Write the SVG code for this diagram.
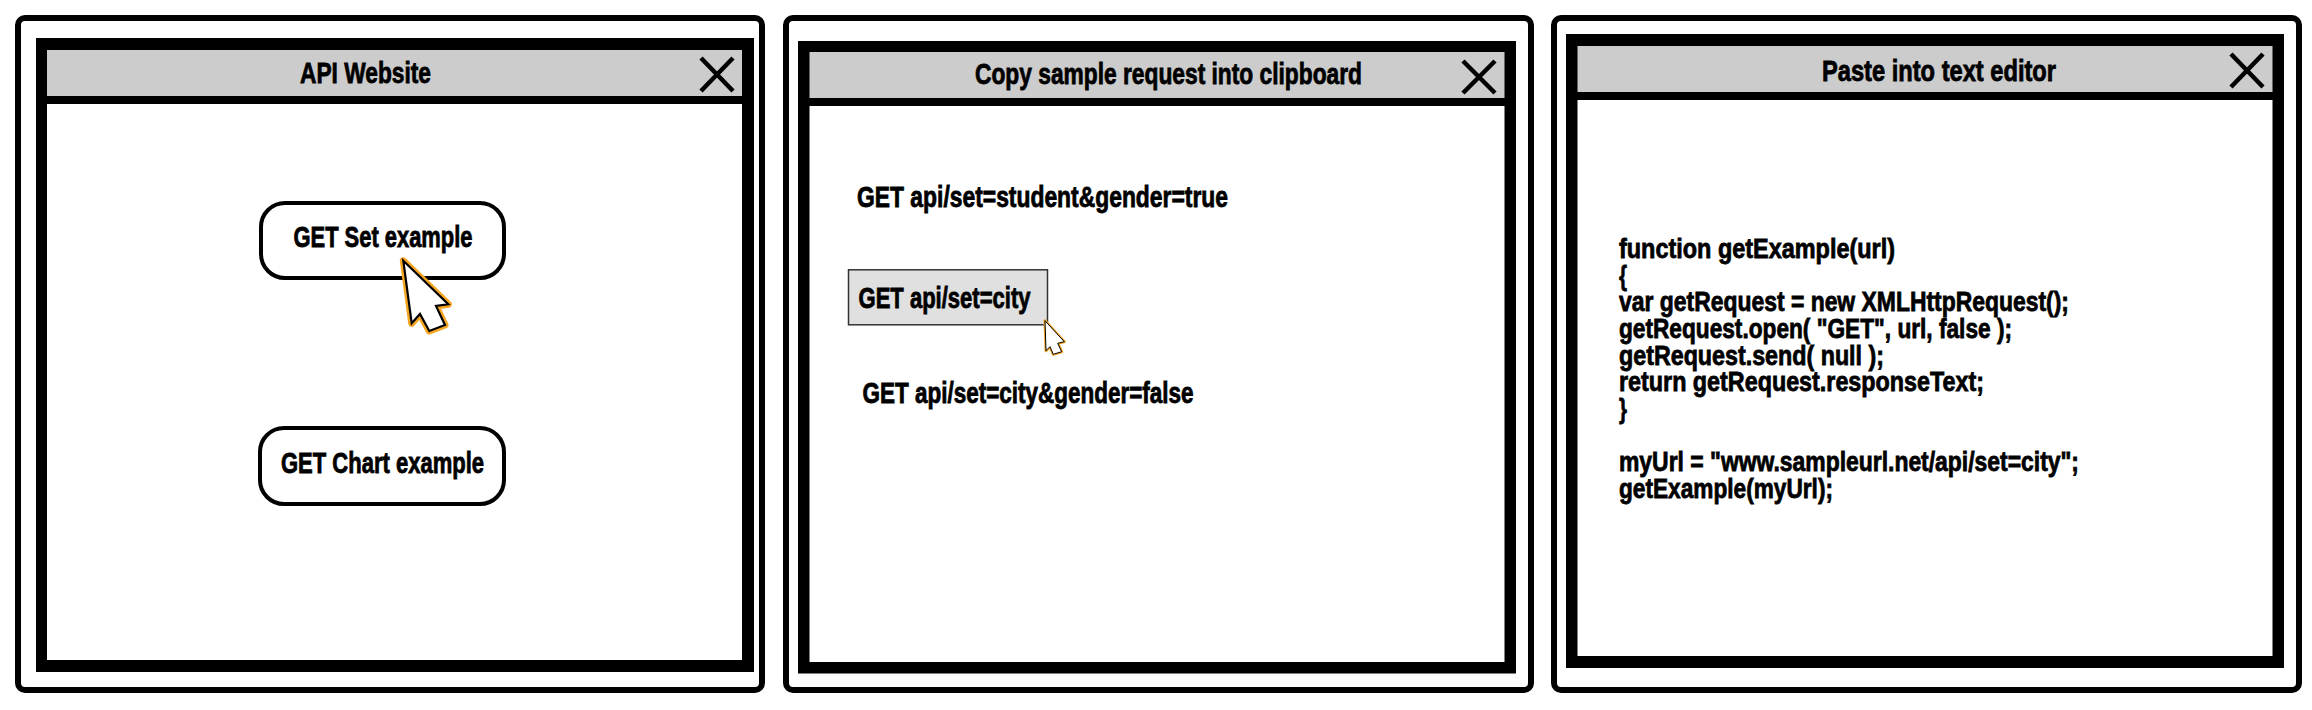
<svg xmlns="http://www.w3.org/2000/svg" width="2312" height="710" viewBox="0 0 2312 710">
<style>
.frame{fill:#fff;stroke:#000;stroke-width:6}
.win{fill:#000}
.bar{fill:#ccc}
.body{fill:#fff}
.x{fill:none;stroke:#000;stroke-width:4.5}
.btn{fill:#fff;stroke:#000;stroke-width:4}
.sel{fill:#e0e0e0;stroke:#333;stroke-width:1.5}
text{font-family:"Liberation Sans Narrow","Liberation Sans",Arial,sans-serif;font-weight:700;fill:#000;stroke:#000;stroke-width:.8;font-size:29px}
.big{font-size:30px}
.code{font-size:28px}
.halo{fill:none;stroke:#f5a623;stroke-linejoin:round}
.arrow{fill:#fff;stroke:#000;stroke-linejoin:miter}
</style>
<rect width="2312" height="710" fill="#fff"/>
<g id="panel-1">
<rect class="frame" x="18" y="18" width="744" height="672" rx="7"/>
<rect class="win" x="36" y="38" width="718" height="634"/>
<rect class="bar" x="47" y="50" width="695" height="46"/>
<rect class="body" x="47" y="104" width="695" height="556"/>
<path class="x" d="M701 58L733 91M733 58L701 91"/>
<text class="big" x="300" y="82.5" textLength="131" lengthAdjust="spacingAndGlyphs">API Website</text>
</g>
<g id="button-set">
<rect class="btn" x="261" y="203" width="243" height="75" rx="24"/>
<text x="293.5" y="246.5" textLength="179" lengthAdjust="spacingAndGlyphs">GET Set example</text>
</g>
<g id="button-chart">
<rect class="btn" x="260" y="428" width="244" height="76" rx="24"/>
<text x="281" y="472.5" textLength="203" lengthAdjust="spacingAndGlyphs">GET Chart example</text>
</g>
<g id="cursor-1">
<path class="halo" stroke-width="7" d="M403.3 260.7L448.3 304.3L436 306L445 325L429.3 331L420 314L411.7 323.3Z"/>
<path class="arrow" stroke-width="2.2" d="M403.3 260.7L448.3 304.3L436 306L445 325L429.3 331L420 314L411.7 323.3Z"/>
</g>
<g id="panel-2">
<rect class="frame" x="786" y="18" width="745" height="672" rx="7"/>
<rect class="win" x="798" y="41" width="718" height="632.5"/>
<rect class="bar" x="809.5" y="52" width="695" height="46"/>
<rect class="body" x="809.5" y="106" width="695" height="556"/>
<path class="x" d="M1463 61L1495 93M1495 61L1463 93"/>
<text class="big" x="975" y="83.5" textLength="387" lengthAdjust="spacingAndGlyphs">Copy sample request into clipboard</text>
<text x="857" y="206.5" textLength="371" lengthAdjust="spacingAndGlyphs">GET api/set=student&amp;gender=true</text>
</g>
<g id="selected-request">
<rect class="sel" x="848.5" y="269.8" width="199" height="55"/>
<text x="858.5" y="307.5" textLength="172" lengthAdjust="spacingAndGlyphs">GET api/set=city</text>
</g>
<g id="request-3">
<text x="862.5" y="402.5" textLength="331" lengthAdjust="spacingAndGlyphs">GET api/set=city&amp;gender=false</text>
</g>
<g id="cursor-2">
<path class="halo" stroke-width="3" d="M1045 320.7L1064.3 341.7L1057.7 343.3L1061.7 351.7L1053.3 354.3L1050 346.7L1046 350.7Z"/>
<path class="arrow" stroke-width="1" d="M1045 320.7L1064.3 341.7L1057.7 343.3L1061.7 351.7L1053.3 354.3L1050 346.7L1046 350.7Z"/>
</g>
<g id="panel-3">
<rect class="frame" x="1554" y="18" width="745" height="672" rx="7"/>
<rect class="win" x="1566" y="34" width="718" height="634"/>
<rect class="bar" x="1577.5" y="46" width="695" height="46"/>
<rect class="body" x="1577.5" y="100" width="695" height="556"/>
<path class="x" d="M2231 54L2263 87M2263 54L2231 87"/>
<text class="big" x="1822" y="80.5" textLength="234" lengthAdjust="spacingAndGlyphs">Paste into text editor</text>
</g>
<g id="code">
<text class="code" x="1619" y="257.8" textLength="276" lengthAdjust="spacingAndGlyphs">function getExample(url)</text>
<text class="code" x="1619" y="284.5" textLength="8" lengthAdjust="spacingAndGlyphs">{</text>
<text class="code" x="1619" y="311.2" textLength="450" lengthAdjust="spacingAndGlyphs">var getRequest = new XMLHttpRequest();</text>
<text class="code" x="1619" y="337.9" textLength="393" lengthAdjust="spacingAndGlyphs">getRequest.open( "GET", url, false );</text>
<text class="code" x="1619" y="364.6" textLength="265" lengthAdjust="spacingAndGlyphs">getRequest.send( null );</text>
<text class="code" x="1619" y="391.3" textLength="365" lengthAdjust="spacingAndGlyphs">return getRequest.responseText;</text>
<text class="code" x="1619" y="418" textLength="8" lengthAdjust="spacingAndGlyphs">}</text>
<text class="code" x="1619" y="471.4" textLength="460" lengthAdjust="spacingAndGlyphs">myUrl = "www.sampleurl.net/api/set=city";</text>
<text class="code" x="1619" y="498.1" textLength="214" lengthAdjust="spacingAndGlyphs">getExample(myUrl);</text>
</g>
<g id="connectors"/>
</svg>
